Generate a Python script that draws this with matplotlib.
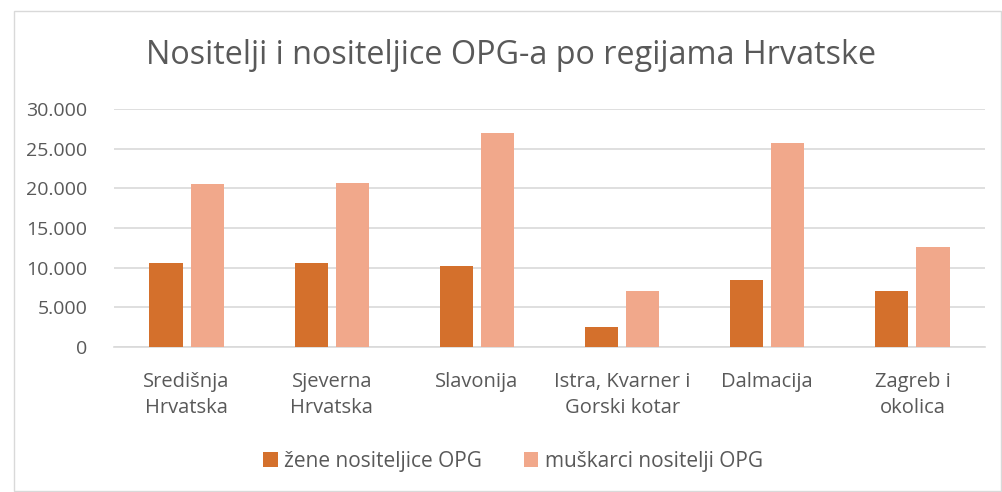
import numpy as np
import matplotlib.pyplot as plt
from matplotlib.patches import Rectangle

# data
regions = ["Središnja\nHrvatska", "Sjeverna\nHrvatska", "Slavonija",
           "Istra, Kvarner i\nGorski kotar", "Dalmacija", "Zagreb i\nokolica"]
zene = [10550, 10630, 10250, 2530, 8440, 7010]
muskarci = [20500, 20680, 27010, 7050, 25660, 12580]
series_names = ["žene nositeljice OPG", "muškarci nositelji OPG"]
yticks = [0, 5000, 10000, 15000, 20000, 25000, 30000]
ytick_labels = ["0", "5.000", "10.000", "15.000", "20.000", "25.000", "30.000"]

plt.rcParams['font.family'] = ['Open Sans', 'DejaVu Sans']
txt = "#595959"

fig = plt.figure(figsize=(10.02, 4.92), dpi=100)
fig.patches.append(Rectangle((14 / 1002, 0.002), 0.985, 0.976, transform=fig.transFigure,
                             fill=False, edgecolor="#d9d9d9", linewidth=1))
ax = fig.add_axes([114 / 1002, 1 - 347 / 492, (985 - 114) / 1002, (347 - 109) / 492])

x = np.arange(len(regions))
w = 0.228
off = 0.142
ax.bar(x - off, zene, w, color="#D4702C", label=series_names[0], zorder=3)
ax.bar(x + off, muskarci, w, color="#F1A88B", label=series_names[1], zorder=3)

ax.set_xlim(-0.5, len(regions) - 0.5)
ax.set_ylim(0, 30000)
ax.set_yticks(yticks)
ax.set_yticklabels(ytick_labels)
ax.set_xticks(x)
ax.set_xticklabels(regions, linespacing=1.42)
ax.tick_params(axis='y', length=0, pad=19, labelsize=14, labelcolor=txt)
ax.tick_params(axis='x', length=0, pad=18, labelsize=14.5, labelcolor=txt)
ax.grid(axis='y', color="#d9d9d9", linewidth=1.2, zorder=0)
for s in ["top", "right", "left"]:
    ax.spines[s].set_visible(False)
ax.spines["bottom"].set_color("#d9d9d9")
ax.spines["bottom"].set_linewidth(1.2)

fig.text(511 / 1002, 1 - 56 / 492, "Nositelji i nositeljice OPG-a po regijama Hrvatske",
         ha="center", va="center", fontsize=23.3, color=txt)

fig.legend(loc="center", bbox_to_anchor=(513 / 1002, 1 - 461 / 492), ncol=2, frameon=False,
           fontsize=15, labelcolor=txt, handlelength=0.7, handleheight=0.7,
           handletextpad=0.3, columnspacing=2.0)

fig.savefig("out.png", dpi=100)
